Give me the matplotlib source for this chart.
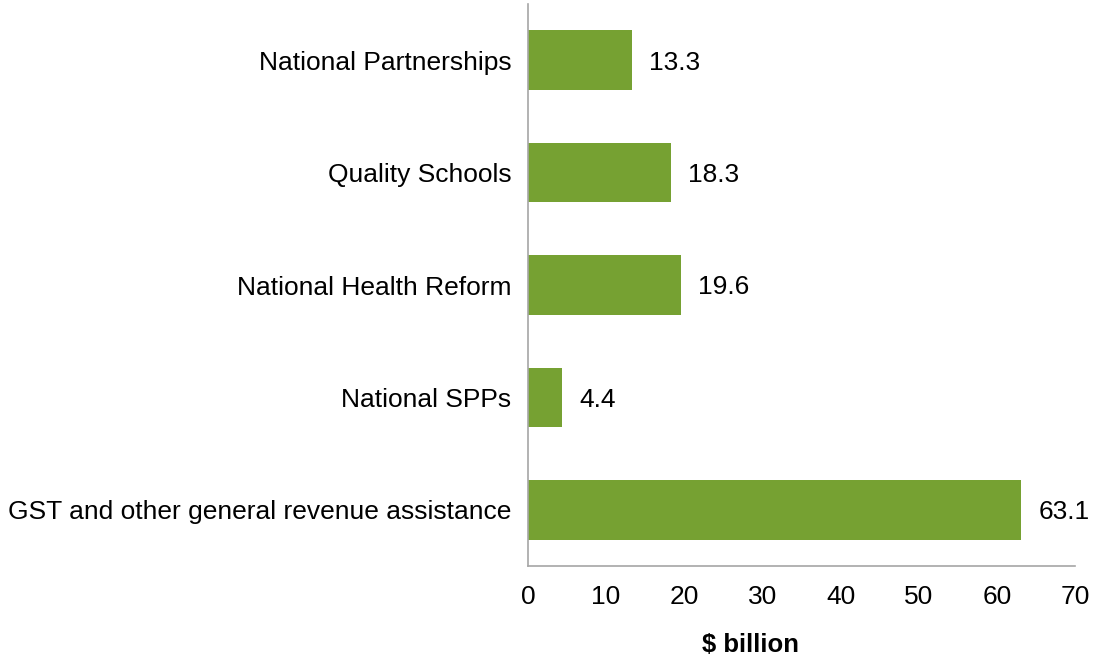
import matplotlib
matplotlib.use('Agg')
import matplotlib.pyplot as plt

categories = ['GST and other general revenue assistance', 'National SPPs',
              'National Health Reform', 'Quality Schools', 'National Partnerships']
values = [63.1, 4.4, 19.6, 18.3, 13.3]
x_ticks = [0, 10, 20, 30, 40, 50, 60, 70]

plt.rcParams['font.family'] = ['Liberation Sans', 'DejaVu Sans']

fig = plt.figure(figsize=(10.94, 6.58), dpi=100)
ax = fig.add_axes([0.4826, 0.1398, 0.5, 0.854])

pos = list(range(len(categories)))
ax.barh(pos, values, height=0.53, color='#76A132')
for p, v in zip(pos, values):
    ax.text(v + 2.2, p - 0.02, f'{v:.1f}', va='center', ha='left', fontsize=19, color='black')

ax.set_xlim(0, 70)
ax.set_ylim(-0.5, 4.5)
ax.set_yticks(pos)
ax.set_yticklabels(categories, fontsize=19)
ax.set_xticks(x_ticks)
ax.set_xticklabels([str(t) for t in x_ticks], fontsize=19)
ax.tick_params(axis='both', length=0)
ax.tick_params(axis='y', pad=12)
ax.tick_params(axis='x', pad=14)
ax.set_xlabel('$ billion', fontsize=18.5, fontweight='bold', va='center')
ax.xaxis.set_label_coords(0.406, -0.1406)

for s in ['top', 'right']:
    ax.spines[s].set_visible(False)
for s in ['left', 'bottom']:
    ax.spines[s].set_color('#A6A6A6')
    ax.spines[s].set_linewidth(1.2)

fig.savefig('out.png', dpi=100)
